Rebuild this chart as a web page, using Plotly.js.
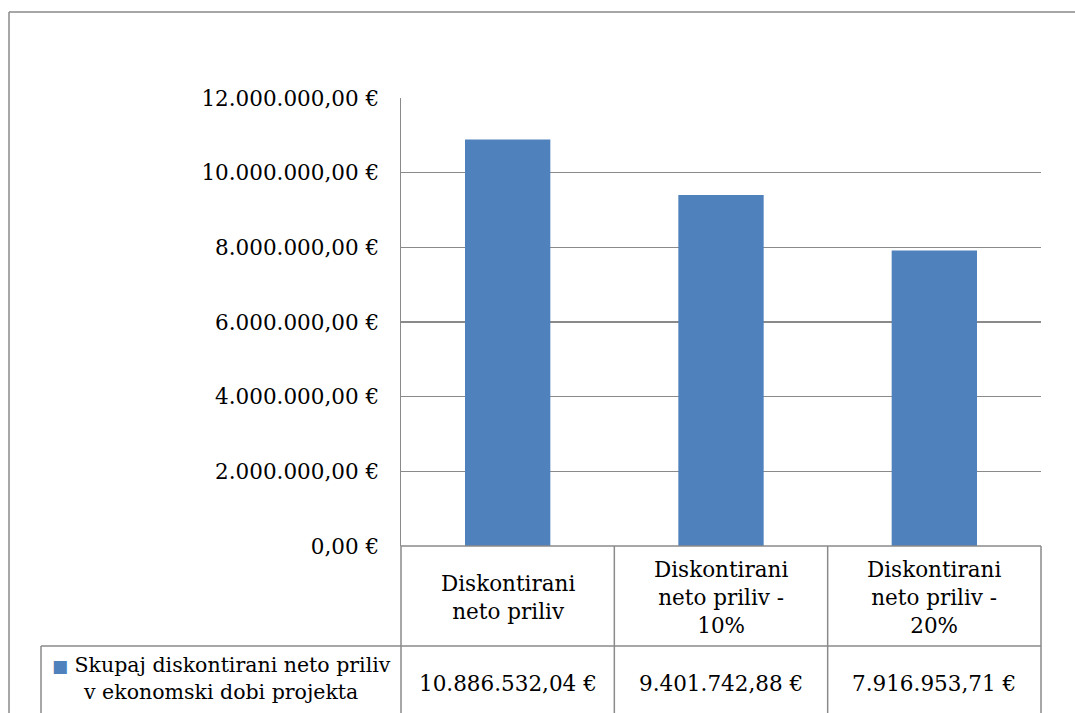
<!DOCTYPE html>
<html>
<head>
<meta charset="utf-8">
<script src="https://cdn.plot.ly/plotly-3.0.1.min.js"></script>
<style>
  html, body { margin: 0; padding: 0; background: #ffffff; }
  #chart { width: 1075px; height: 713px; }
</style>
</head>
<body>
<div id="chart"></div>
<script>
// Discounted net inflow over the project's economic life
const categories = [
  'Diskontirani<br>neto priliv',
  'Diskontirani<br>neto priliv -<br>10%',
  'Diskontirani<br>neto priliv -<br>20%'
];
const values = [10886532.04, 9401742.88, 7916953.71];
const seriesName = 'Skupaj diskontirani neto priliv<br>v ekonomski dobi projekta';
const yTickValues = [0, 2000000, 4000000, 6000000, 8000000, 10000000, 12000000];

const BAR_COLOR = '#4F81BD';
const LINE_COLOR = '#8a8a8a';
const FONT = "'DejaVu Serif', serif";
const FONT_SIZE = 21.5;

// Plot-area geometry in pixels
const W = 1075, H = 713;
const M = { l: 401, r: 34, t: 98, b: 167 };
const plotW = W - M.l - M.r;
const plotH = H - M.t - M.b;
const px = x => (x - M.l) / plotW;          // pixel x -> paper x
const py = y => (H - M.b - y) / plotH;      // pixel y -> paper y

// Euro amount in Slovenian notation: 10.886.532,04 €
function euro(v) {
  const parts = v.toFixed(2).split('.');
  const intPart = parts[0].replace(/\B(?=(\d{3})+(?!\d))/g, '.');
  return intPart + ',' + parts[1] + ' €';
}

const xIdx = categories.map((_, i) => i);

const trace = {
  type: 'bar',
  x: xIdx,
  y: values,
  name: seriesName,
  marker: { color: BAR_COLOR },
  hoverinfo: 'skip',
  showlegend: false
};

// Data table under the plot
const headerY = py(597);
const rowTop = py(646);
const valueY = py(683);
const tableBottom = py(740);
const legendLeft = px(41);

const line = (x0, y0, x1, y1, xref) => ({
  type: 'line', xref: xref || 'paper', yref: 'paper',
  x0: x0, y0: y0, x1: x1, y1: y1,
  line: { color: LINE_COLOR, width: 1.5 }, layer: 'above'
});

const shapes = [
  // chart frame
  line(px(9), py(12), px(1100), py(12)),
  line(px(9), py(12), px(9), py(740)),
  // table grid
  line(0, 0, 0, tableBottom),
  line(1, 0, 1, tableBottom),
  line(0, 0, 1, 0),
  line(legendLeft, rowTop, 1, rowTop),
  line(legendLeft, rowTop, legendLeft, tableBottom)
];
// column dividers between categories
for (let i = 0; i < categories.length - 1; i++) {
  shapes.push(line(i + 0.5, 0, i + 0.5, tableBottom, 'x'));
}

const annotations = [];
categories.forEach((c, i) => {
  annotations.push({
    xref: 'x', yref: 'paper', x: i, y: headerY,
    text: c, showarrow: false, align: 'center',
    xanchor: 'center', yanchor: 'middle',
    font: { family: FONT, size: FONT_SIZE, color: '#000' }
  });
  annotations.push({
    xref: 'x', yref: 'paper', x: i, y: valueY,
    text: euro(values[i]), showarrow: false, align: 'center',
    xanchor: 'center', yanchor: 'middle',
    font: { family: FONT, size: FONT_SIZE, color: '#000' }
  });
});
// legend key cell
annotations.push({
  xref: 'paper', yref: 'paper', x: legendLeft / 2, y: py(678),
  text: '<span style="color:' + BAR_COLOR + ';font-size:17px">■</span> ' + seriesName,
  showarrow: false, align: 'center', xanchor: 'center', yanchor: 'middle',
  font: { family: FONT, size: 20.5, color: '#000' }
});

const layout = {
  width: W, height: H,
  margin: M,
  paper_bgcolor: '#ffffff',
  plot_bgcolor: '#ffffff',
  bargap: 0.6,
  showlegend: false,
  font: { family: FONT, size: FONT_SIZE, color: '#000' },
  xaxis: {
    type: 'linear',
    range: [-0.5, categories.length - 0.5],
    showticklabels: false,
    ticks: '',
    showgrid: false,
    zeroline: false,
    showline: false,
    fixedrange: true
  },
  yaxis: {
    range: [0, 12000000],
    tickmode: 'array',
    tickvals: yTickValues,
    ticktext: yTickValues.map(euro),
    ticks: '',
    ticklabelstandoff: 16,
    showgrid: true,
    gridcolor: LINE_COLOR,
    gridwidth: 1.5,
    zeroline: false,
    showline: true,
    linecolor: LINE_COLOR,
    linewidth: 1.5,
    tickfont: { family: FONT, size: FONT_SIZE, color: '#000' },
    fixedrange: true
  },
  shapes: shapes,
  annotations: annotations
};

Plotly.newPlot('chart', [trace], layout, { displayModeBar: false, staticPlot: true });
</script>
</body>
</html>
